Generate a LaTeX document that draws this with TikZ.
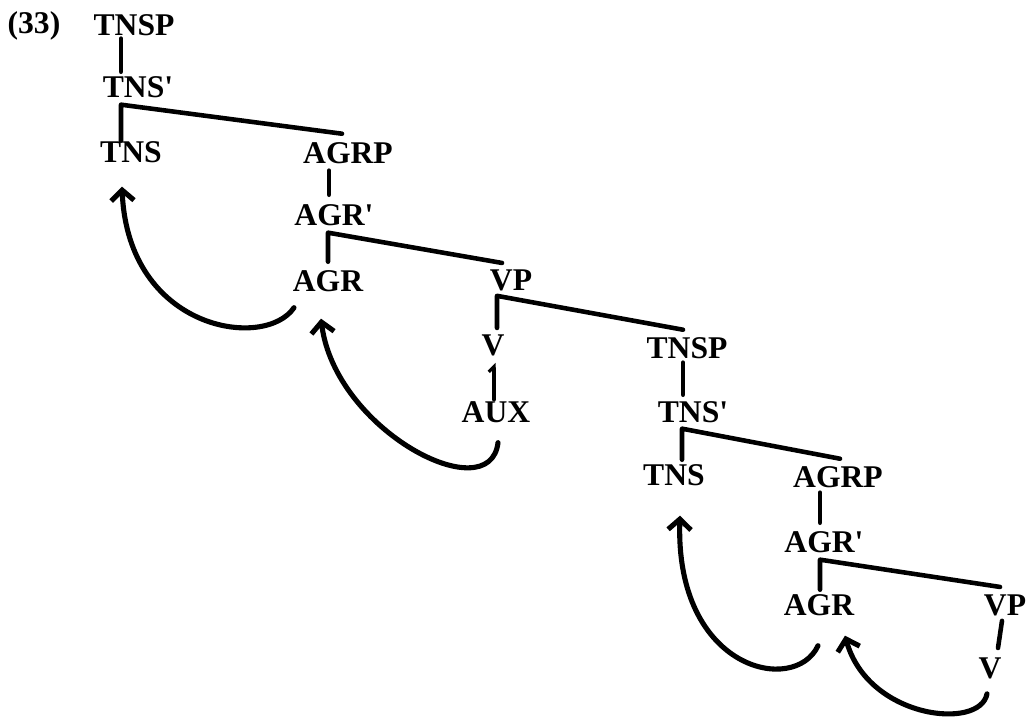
\documentclass[tikz,border=0pt]{standalone}
\usepackage{fontspec}
\setmainfont{Liberation Serif}
\usetikzlibrary{arrows.meta}

\begin{document}
\begin{tikzpicture}[x=0.02cm,y=-0.02cm,
    lbl/.style = {anchor=base, inner sep=0pt, font=\fontsize{18}{21}\selectfont\bfseries},
    branch/.style = {line width=2.6pt, line cap=round, line join=round},
    move/.style = {line width=2.9pt, line cap=round, -{Straight Barb[length=6pt,width=13pt]}}]
%\draw [help lines] (0,0) grid[step=50] (1028,718);
    \useasboundingbox (0,0) rectangle (1028,718);
    \node[lbl] (n33) at (34,33) {(33)};
    % upper tree
    \node[lbl] (tnspA) at (134,35) {TNSP};
    \node[lbl] (tnsbA) at (138,97) {TNS\textquotesingle};
    \node[lbl] (tnsA)  at (131,162) {TNS};
    \node[lbl] (agrpA) at (348,163) {AGRP};
    \node[lbl] (agrbA) at (334,225) {AGR\textquotesingle};
    \node[lbl] (agrA)  at (328,291) {AGR};
    \node[lbl] (vpA)   at (511,290) {VP};
    \node[lbl] (vA)    at (493,355) {V};
    \node[lbl] (auxA)  at (496,422) {AUX};
    % lower tree
    \node[lbl] (tnspB) at (687,358) {TNSP};
    \node[lbl] (tnsbB) at (693,422) {TNS\textquotesingle};
    \node[lbl] (tnsB)  at (674,485) {TNS};
    \node[lbl] (agrpB) at (838,487) {AGRP};
    \node[lbl] (agrbB) at (824,552) {AGR\textquotesingle};
    \node[lbl] (agrB)  at (819,615) {AGR};
    \node[lbl] (vpB)   at (1005,615) {VP};
    \node[lbl] (vB)    at (990,678) {V};

    \draw[branch] ([shift={(-13,3)}]tnspA.south) -- ([shift={(-17,-4)}]tnsbA.north);
    \draw[branch] ([shift={(-10,0)}]tnsA.north) -- ([shift={(-17,7)}]tnsbA.south) -- ([shift={(-6,-8)}]agrpA.north);
    \draw[branch] ([shift={(-19,7)}]agrpA.south) -- ([shift={(-5,-9)}]agrbA.north);
    \draw[branch] ([shift={(0,-8)}]agrA.north) -- ([shift={(-6,7)}]agrbA.south) -- ([shift={(-9,-6)}]vpA.north);
    \draw[branch] ([shift={(4,-6)}]vA.north) -- ([shift={(-14,5)}]vpA.south) -- ([shift={(-4,-7)}]tnspB.north);
    \draw[branch, line width=1.8pt, {Straight Barb[left,length=3pt,width=6pt]}-] ([shift={(1,7)}]vA.south) -- ([shift={(-2,-1)}]auxA.north);
    \draw[branch] ([shift={(-4,4)}]tnspB.south) -- ([shift={(-10,-6)}]tnsbB.north);
    \draw[branch] ([shift={(8,-4)}]tnsB.north) -- ([shift={(-11,6)}]tnsbB.south) -- ([shift={(2,-7)}]agrpB.north);
    \draw[branch] ([shift={(-18,5)}]agrpB.south) -- ([shift={(-4,-8)}]agrbB.north);
    \draw[branch] ([shift={(1,-4)}]agrB.north) -- ([shift={(-4,7)}]agrbB.south) -- ([shift={(-5,-7)}]vpB.north);
    \draw[branch] ([shift={(-3,5)}]vpB.south) -- ([shift={(8,-9)}]vB.north);

    % movement arrows
    \draw[move] ([shift={(-34,16)}]agrA.south) .. controls +(-29,43) and +(6,144) .. ([shift={(-9,24)}]tnsA.south);
    \draw[move] ([shift={(2,20)}]auxA.south) .. controls +(-8,68) and +(14,112) .. ([shift={(-7,27)}]agrA.south);
    \draw[move] ([shift={(-1,30)}]agrB.south) .. controls +(-23,50) and +(-5,155) .. ([shift={(6,30)}]tnsB.south);
    \draw[move] ([shift={(-3,15)}]vB.south) .. controls +(-7,37) and +(23,83) .. ([shift={(26,20)}]agrB.south);
\end{tikzpicture}
\end{document}
